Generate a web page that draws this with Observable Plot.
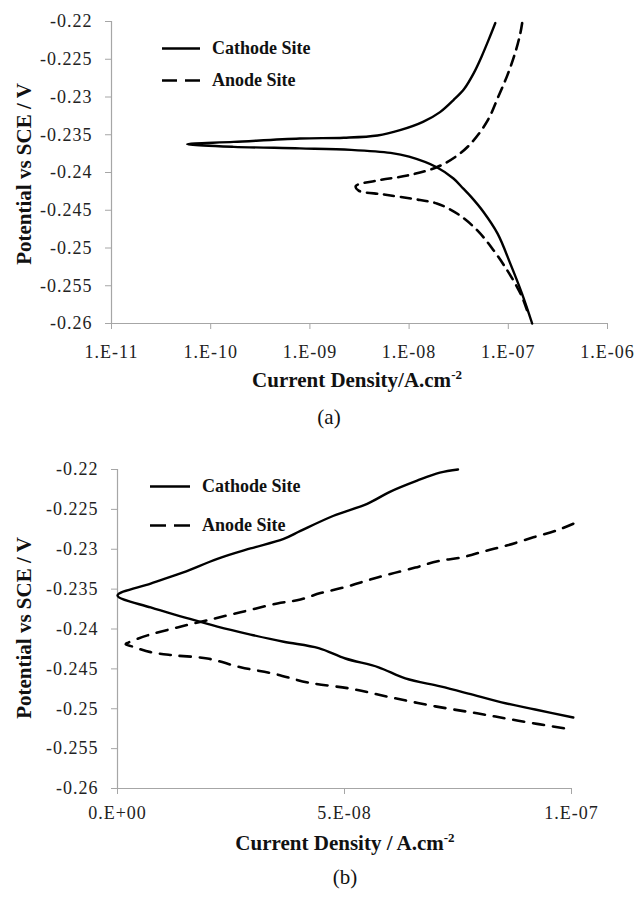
<!DOCTYPE html>
<html><head><meta charset="utf-8">
<script src="https://cdn.jsdelivr.net/npm/d3@7"></script>
<script src="https://cdn.jsdelivr.net/npm/@observablehq/plot@0.6"></script>
<style>
body{margin:0;background:#fff;}
#root{position:relative;width:638px;height:899px;font-family:"Liberation Serif",Tinos,"Times New Roman","DejaVu Serif",serif;color:#111;overflow:hidden;}
#root svg{position:absolute;left:0;}
.lab{position:absolute;white-space:nowrap;transform:translate(-50%,-50%);}
.xt{font-weight:bold;font-size:21px;}
.yt{font-weight:bold;font-size:21px;transform:translate(-50%,-50%) rotate(-90deg);}
.cap{font-size:21px;}
.leg{position:absolute;display:flex;align-items:center;font-weight:bold;font-size:18px;white-space:nowrap;transform:translateY(-50%);}
.leg svg{position:static !important;margin-right:12px;}
sup{font-size:0.62em;vertical-align:0.55em;line-height:0;}
</style></head><body><div id="root"></div>
<script>
// ---------- data ----------
const seriesNames = ["Cathode Site", "Anode Site"];
const yTicks = [-0.26, -0.255, -0.25, -0.245, -0.24, -0.235, -0.23, -0.225, -0.22];
const yTickLabels = ["-0.26", "-0.255", "-0.25", "-0.245", "-0.24", "-0.235", "-0.23", "-0.225", "-0.22"];
const aXTicks = [1e-11, 1e-10, 1e-9, 1e-8, 1e-7, 1e-6];
const aXTickLabels = ["1.E-11", "1.E-10", "1.E-09", "1.E-08", "1.E-07", "1.E-06"];
const bXTicks = [0, 5e-8, 1e-7];
const bXTickLabels = ["0.E+00", "5.E-08", "1.E-07"];

// panel (a): log current density
const aCathodeI = [7.4e-8, 6.3e-8, 5.4e-8, 4.5e-8, 3.6e-8, 2.8e-8, 2.05e-8, 1.38e-8, 8.1e-9, 4.8e-9, 2.2e-9, 7.9e-10, 1.7e-10, 5.8e-11,
  1.7e-10, 7.9e-10, 2.6e-9, 6.5e-9, 1.0e-8, 1.9e-8, 2.8e-8, 3.5e-8, 4.2e-8, 5.6e-8, 7.8e-8, 1.05e-7, 1.38e-7, 1.74e-7];
const aCathodeE = [-0.2202, -0.2225, -0.2246, -0.2268, -0.2289, -0.2304, -0.2320, -0.2333, -0.2344, -0.2351, -0.2354, -0.2355, -0.23595, -0.23625,
  -0.2366, -0.2368, -0.2370, -0.2374, -0.2379, -0.2393, -0.2408, -0.2421, -0.2432, -0.2452, -0.2481, -0.2521, -0.2561, -0.2600];
const aAnodeI = [1.38e-7, 1.32e-7, 1.17e-7, 9.8e-8, 7.9e-8, 6.2e-8, 4.3e-8, 3.1e-8, 1.9e-8, 9.6e-9, 5.1e-9, 2.9e-9,
  3.1e-9, 5.5e-9, 1.1e-8, 1.9e-8, 3.1e-8, 4.9e-8, 7.1e-8, 9.8e-8, 1.23e-7, 1.38e-7, 1.55e-7];
const aAnodeE = [-0.2202, -0.2216, -0.2242, -0.2271, -0.2300, -0.2331, -0.2360, -0.2377, -0.2393, -0.2404, -0.2410, -0.2418,
  -0.2424, -0.2429, -0.2435, -0.2441, -0.2455, -0.2477, -0.2503, -0.2530, -0.2552, -0.2565, -0.2583];

// panel (b): linear current density
const bCathodeI = [7.5e-8, 7.1e-8, 6.6e-8, 6.0e-8, 5.5e-8, 4.76e-8, 4.03e-8, 3.66e-8, 2.93e-8, 2.2e-8, 1.45e-8, 7.3e-9, 0,
  7.3e-9, 1.45e-8, 2.2e-8, 2.93e-8, 3.66e-8, 4.43e-8, 5.02e-8, 5.75e-8, 6.34e-8, 7.11e-8, 7.73e-8, 8.46e-8, 9.2e-8, 1.004e-7];
const bCathodeE = [-0.2200, -0.2204, -0.2214, -0.2228, -0.2243, -0.2258, -0.2277, -0.2287, -0.2299, -0.2312, -0.2329, -0.2343, -0.2358,
  -0.2373, -0.2385, -0.2397, -0.2407, -0.2416, -0.2424, -0.2437, -0.2448, -0.2462, -0.2472, -0.2481, -0.2492, -0.2501, -0.2511];
const bAnodeI = [1.004e-7, 9.69e-8, 9.16e-8, 8.59e-8, 8.11e-8, 7.6e-8, 7.05e-8, 6.56e-8, 6.01e-8, 5.51e-8, 4.98e-8, 4.47e-8, 4.03e-8, 3.52e-8, 2.71e-8, 1.98e-8, 1.32e-8, 6.6e-9, 2.4e-9, 1.8e-9,
  3.3e-9, 7.3e-9, 1.23e-8, 1.98e-8, 2.71e-8, 3.44e-8, 4.19e-8, 5.15e-8, 6.04e-8, 7.0e-8, 7.95e-8, 8.83e-8, 9.89e-8];
const bAnodeE = [-0.2268, -0.2276, -0.2285, -0.2295, -0.2302, -0.2310, -0.2315, -0.2323, -0.2331, -0.2339, -0.2348, -0.2355, -0.2363, -0.2368, -0.2379, -0.2389, -0.2398, -0.2408, -0.2417, -0.2419,
  -0.2422, -0.2429, -0.2433, -0.2437, -0.2448, -0.2456, -0.2467, -0.2475, -0.2486, -0.2497, -0.2506, -0.2515, -0.2525];

// ---------- helpers ----------
const toRows = (I, E) => I.map((v, k) => ({i: v, E: E[k]}));
const axisGray = "#a6a6a6";
const serif = '"Liberation Serif",Tinos,"Times New Roman","DejaVu Serif",serif';
const fmtFrom = (ticks, labels) => d => labels[ticks.findIndex(t => Math.abs(t - d) <= Math.abs(d) * 1e-9 + 1e-15)];

function panel({xScale, xTicks, xTickLabels, cathode, anode, dash, height, marginLeft, marginRight, marginTop, marginBottom, xPad}) {
  const x0 = xScale.domain[0], y0 = -0.26;
  return Plot.plot({
    width: 638, height, marginLeft, marginRight, marginTop, marginBottom,
    style: {fontFamily: serif, fontSize: "18px", letterSpacing: "1px", background: "transparent", overflow: "visible"},
    x: xScale,
    y: {domain: [-0.26, -0.22]},
    marks: [
      Plot.ruleX([x0], {stroke: axisGray, strokeWidth: 1.2}),
      Plot.ruleY([y0], {stroke: axisGray, strokeWidth: 1.2}),
      Plot.axisX({ticks: xTicks, tickFormat: fmtFrom(xTicks, xTickLabels), tickSize: 6, tickPadding: xPad, stroke: axisGray, fill: "#222", label: null}),
      Plot.axisY({ticks: yTicks, tickFormat: fmtFrom(yTicks, yTickLabels), tickSize: 6, tickPadding: 13, stroke: axisGray, fill: "#222", label: null}),
      Plot.line(cathode, {x: "i", y: "E", curve: "catmull-rom", stroke: "#000", strokeWidth: 2.4}),
      Plot.line(anode, {x: "i", y: "E", curve: "catmull-rom", stroke: "#000", strokeWidth: 2.6, strokeDasharray: dash})
    ]
  });
}

const root = document.getElementById("root");

const svgA = panel({
  xScale: {type: "log", domain: [1e-11, 1e-6]}, xTicks: aXTicks, xTickLabels: aXTickLabels,
  cathode: toRows(aCathodeI, aCathodeE), anode: toRows(aAnodeI, aAnodeE), dash: "10,7",
  height: 365, marginLeft: 111, marginRight: 31, marginTop: 21, marginBottom: 42, xPad: 16
});
svgA.style.top = "0px";
root.appendChild(svgA);

const svgB = panel({
  xScale: {type: "linear", domain: [0, 1e-7]}, xTicks: bXTicks, xTickLabels: bXTickLabels,
  cathode: toRows(bCathodeI, bCathodeE), anode: toRows(bAnodeI, bAnodeE), dash: "11,9",
  height: 390, marginLeft: 117, marginRight: 67, marginTop: 29, marginBottom: 42, xPad: 12
});
svgB.style.top = "440px";
root.appendChild(svgB);

function addLabel(cls, html, x, y) {
  const d = document.createElement("div");
  d.className = "lab " + cls;
  d.innerHTML = html;
  d.style.left = x + "px"; d.style.top = y + "px";
  root.appendChild(d);
}
addLabel("xt", "Current Density/A.cm<sup>-2</sup>", 357, 380);
addLabel("cap", "(a)", 329, 417);
addLabel("yt", "Potential vs SCE / V", 24, 174);
addLabel("xt", "Current Density / A.cm<sup>-2</sup>", 345, 843);
addLabel("cap", "(b)", 345, 877);
addLabel("yt", "Potential vs SCE / V", 24, 628);

function addLegend(x, y, name, dash, w) {
  const d = document.createElement("div");
  d.className = "leg";
  d.style.left = x + "px"; d.style.top = y + "px";
  d.innerHTML = `<svg width="${w}" height="6"><line x1="0" y1="3" x2="${w}" y2="3" stroke="#000" stroke-width="2.6" ${dash ? `stroke-dasharray="${dash}"` : ""}/></svg><span>${name}</span>`;
  root.appendChild(d);
}
addLegend(162, 48, seriesNames[0], null, 38);
addLegend(162, 80, seriesNames[1], "15,8", 38);
addLegend(150, 486, seriesNames[0], null, 40);
addLegend(150, 525, seriesNames[1], "16,8", 40);
</script></body></html>
